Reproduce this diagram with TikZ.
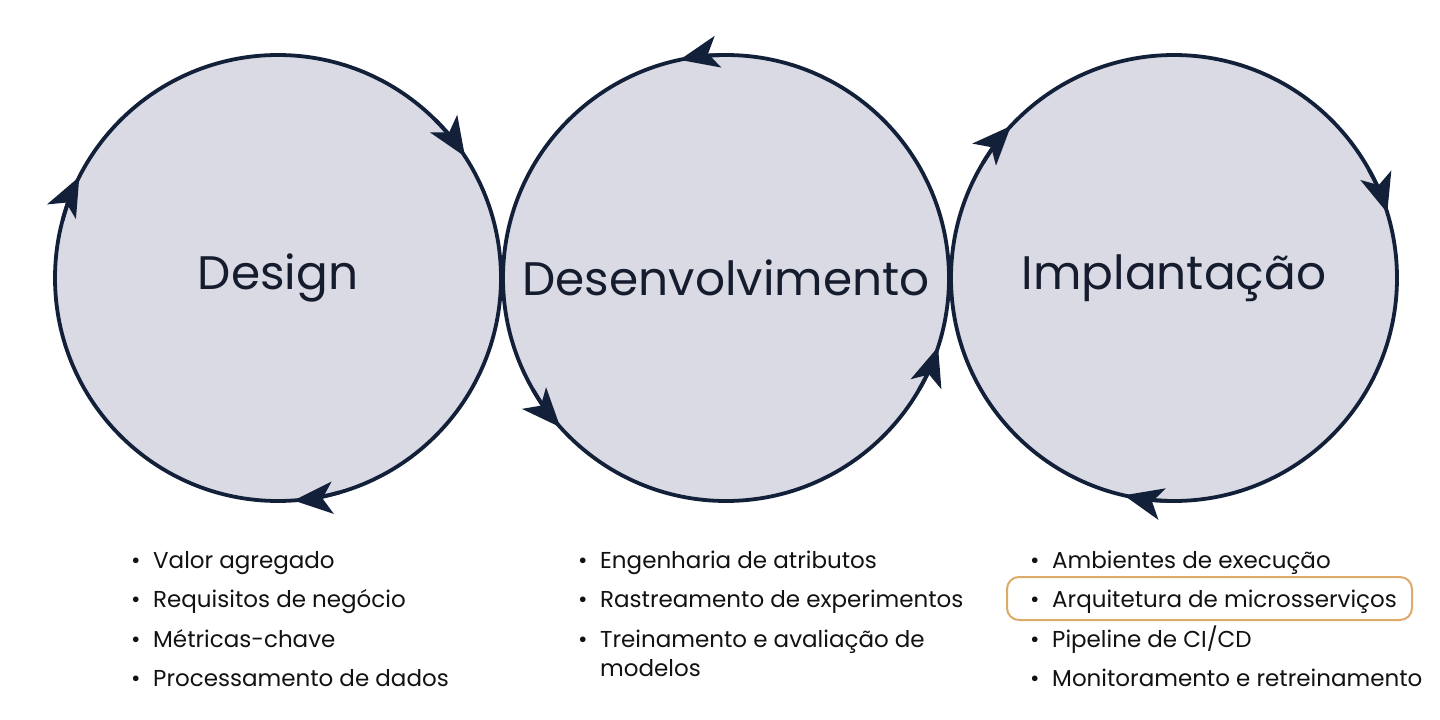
\documentclass[tikz,border=0pt]{standalone}
\usepackage{fontspec}
\setmainfont{Poppins}
\usetikzlibrary{arrows.meta}

\definecolor{navy}{HTML}{13203A}
\definecolor{phasefill}{HTML}{D9DAE3}
\definecolor{titletext}{HTML}{141C2E}
\definecolor{itemtext}{HTML}{121212}
\definecolor{hilite}{HTML}{DCAA6A}

\newcommand{\itembullet}{\makebox[22pt][l]{•}}

\begin{document}
\begin{tikzpicture}[-,>={Stealth[length=39pt,width=32pt,inset=10pt]},node distance=448pt,
    phase node/.style={circle,draw=navy,fill=phasefill,line width=3.8pt,minimum size=446pt,inner sep=0pt,outer sep=0pt,text=titletext,font=\fontsize{47}{56}\selectfont},
    item node/.style={anchor=base west,inner sep=0pt,text=itemtext,font=\fontsize{23}{29}\selectfont},
    tip arc/.style={->,draw=navy,line width=3.8pt}]
            \useasboundingbox[fill=white] (0pt,0pt) rectangle (1440pt,-720pt);

            \node[phase node] (0) at (278pt,-278pt) {Design};
            \node[phase node] (1) [right of = 0] {Desenvolvimento};
            \node[phase node] (2) [right of = 1] {Implantação};

            % arrow heads on the rims
            \draw[tip arc] (0.45) arc[start angle=45, end angle=33, radius=223pt];
            \draw[tip arc] (0.165) arc[start angle=165, end angle=153, radius=223pt];
            \draw[tip arc] (0.286) arc[start angle=286, end angle=274, radius=223pt];
            \draw[tip arc] (1.90) arc[start angle=90, end angle=102, radius=223pt];
            \draw[tip arc] (1.210) arc[start angle=210, end angle=222, radius=223pt];
            \draw[tip arc] (1.330) arc[start angle=330, end angle=342, radius=223pt];
            \draw[tip arc] (2.149) arc[start angle=149, end angle=137, radius=223pt];
            \draw[tip arc] (2.29) arc[start angle=29, end angle=17, radius=223pt];
            \draw[tip arc] (2.269) arc[start angle=269, end angle=257, radius=223pt];

            \node[draw=hilite, line width=2pt, rounded corners=12pt, minimum width=405pt, minimum height=43pt] (14) at (1209.5pt,-598.5pt) {};

            \node[item node] (3) at (131pt,-568pt) {\itembullet Valor agregado};
            \node[item node] (4) at (131pt,-607pt) {\itembullet Requisitos de negócio};
            \node[item node] (5) at (131pt,-647pt) {\itembullet Métricas-chave};
            \node[item node] (6) at (131pt,-686pt) {\itembullet Processamento de dados};

            \node[item node] (7) at (578pt,-568pt) {\itembullet Engenharia de atributos};
            \node[item node] (8) at (578pt,-607pt) {\itembullet Rastreamento de experimentos};
            \node[item node] (9) at (578pt,-647pt) {\itembullet Treinamento e avaliação de};
            \node[item node] (10) at (600pt,-676pt) {modelos};

            \node[item node] (11) at (1030pt,-568pt) {\itembullet Ambientes de execução};
            \node[item node] (12) at (1030pt,-607pt) {\itembullet Arquitetura de microsserviços};
            \node[item node] (13) at (1030pt,-647pt) {\itembullet Pipeline de CI/CD};
            \node[item node] (15) at (1030pt,-686pt) {\itembullet Monitoramento e retreinamento};
        \end{tikzpicture}
\end{document}
